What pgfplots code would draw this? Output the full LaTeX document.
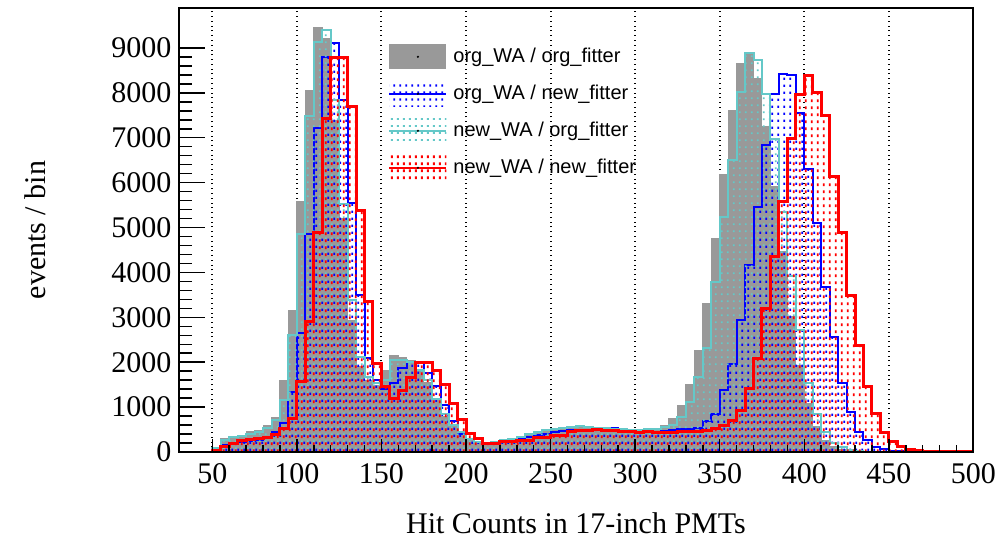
\documentclass[border=0pt]{standalone}
\usepackage{fontspec}
\setmainfont{Liberation Serif}
\newfontfamily\legendfont{Liberation Sans}
\usepackage{pgfplots}
\usepackage{pgfplotstable}
\pgfplotsset{compat=1.18}
\usetikzlibrary{patterns}
\pgfdeclarepatternformonly{dotsred}{\pgfpointorigin}{\pgfpoint{3bp}{3.5bp}}{\pgfpoint{3bp}{3.5bp}}{\pgfpathrectangle{\pgfpoint{0.5bp}{0.5bp}}{\pgfpoint{1.1bp}{1.5bp}}\pgfusepath{fill}}
\pgfdeclarepatternformonly{dotscyan}{\pgfpointorigin}{\pgfpoint{3bp}{3.5bp}}{\pgfpoint{3bp}{3.5bp}}{\pgfpathrectangle{\pgfpoint{0.5bp}{2.25bp}}{\pgfpoint{1.1bp}{1bp}}\pgfusepath{fill}}
\pgfdeclarepatternformonly{dotsblue}{\pgfpointorigin}{\pgfpoint{3bp}{3.5bp}}{\pgfpoint{3bp}{3.5bp}}{\pgfpathrectangle{\pgfpoint{2bp}{1.25bp}}{\pgfpoint{1bp}{1.25bp}}\pgfusepath{fill}}
\definecolor{histgray}{RGB}{153,153,153}
\definecolor{histcyan}{RGB}{100,200,200}
\pgfplotsset{
  layers/rootlayers/.define layer set={axis background,axis grid,main,axis ticks,axis lines,axis tick labels,axis descriptions,axis foreground}{/pgfplots/layers/standard},
}
\pgfplotstableread{
x g b c r
30 0 0 0 0
35 0 0 0 0
40 0 0 0 0
45 0 0 0 0
50 100 45 90 30
55 290 156 270 120
60 340 193 330 200
65 370 230 350 260
70 450 250 400 270
75 480 270 450 290
80 580 310 540 320
85 773 440 712 400
90 1603 640 1157 530
95 3161 1340 2604 750
100 5572 2641 4853 1566
105 8058 4850 7487 2903
110 9453 7227 9134 4884
115 9208 8800 9394 7431
120 7390 9112 7835 8782
125 5200 7836 5535 8782
130 2940 5550 3380 7705
135 1900 3495 2120 5389
140 1600 2090 1680 3363
145 1490 1600 1528 1965
150 1825 1400 1603 1450
155 2160 1528 2050 1200
160 2100 1870 2050 1381
165 2030 2011 2010 1663
170 1800 1980 1825 1989
175 1550 1770 1600 1989
180 1150 1470 1180 1826
185 800 1050 840 1507
190 570 680 600 1084
195 420 390 450 713
200 280 282 290 416
205 215 226 220 300
210 200 200 200 193
215 225 200 220 193
220 270 230 260 230
225 310 260 300 230
230 355 300 340 267
235 400 340 390 267
240 450 380 440 326
245 490 400 480 326
250 530 453 520 378
255 555 475 545 378
260 575 480 565 453
265 585 490 575 490
270 570 495 560 490
275 550 512 545 512
280 530 527 525 475
285 520 527 515 490
290 515 505 510 467
295 505 475 500 453
300 500 453 495 430
305 515 453 505 453
310 530 453 515 430
315 601 467 560 438
320 750 490 601 438
325 1046 505 786 453
330 1500 505 1120 453
335 2270 527 1677 453
340 3309 700 2308 475
345 4756 850 3792 527
350 6188 1380 5224 601
355 7613 1951 6515 712
360 8652 2938 8021 935
365 8889 4163 8889 1417
370 8318 5461 8726 2085
375 7242 6849 7984 3198
380 5906 7984 6982 4348
385 4459 8414 5350 5572
390 3013 8392 3930 6982
395 1937 7558 2710 7962
400 1083 6314 1540 8377
405 564 5090 840 7999
410 267 3680 453 7487
415 119 2567 193 6144
420 60 1547 104 4890
425 30 890 50 3495
430 10 445 25 2367
435 5 260 10 1454
440 0 110 5 861
445 0 60 0 430
450 0 30 0 240
455 0 15 0 125
460 0 8 0 60
465 0 0 0 25
470 0 0 0 15
475 0 0 0 10
480 0 0 0 5
485 0 0 0 3
490 0 0 0 2
495 0 0 0 1
500 0 0 0 1
}\hist
\begin{document}
\begin{tikzpicture}
\begin{axis}[
  set layers=rootlayers,
  at={(0,0)}, anchor=south west,
  scale only axis, width=397.45bp, height=222bp,
  xmin=30, xmax=500, ymin=0, ymax=9890,
  xtick={50,100,...,500}, ytick={0,1000,...,9000},
  minor x tick num=4, minor y tick num=4,
  tick pos=left, tick align=inside,
  x tick style={black, line width=0.75bp, /pgfplots/major tick length=6.5bp, /pgfplots/minor tick length=3.25bp},
  y tick style={black, line width=0.75bp, /pgfplots/major tick length=13bp, /pgfplots/minor tick length=6.5bp},
  xmajorgrids,
  grid style={black, dotted, line width=1bp},
  axis line style={black, line width=1bp},
  scaled y ticks=false,
  /pgf/number format/assume math mode=true,
  /pgf/number format/1000 sep={},
  tick label style={font=\fontsize{15bp}{18bp}\selectfont},
  xticklabel style={yshift=-2.5bp},
  xlabel={Hit Counts in 17-inch PMTs},
  ylabel={events / bin},
  label style={font=\fontsize{15bp}{18bp}\selectfont},
  xlabel style={at={(axis description cs:0.5,-0.16)}, anchor=center},
  ylabel style={at={(axis description cs:-0.1805,0.5)}, anchor=center},
  legend style={at={(0.2636,0.919)}, anchor=north west, draw=none, fill=none, inner sep=0pt,
    row sep=6bp, column sep=3bp, font=\legendfont\fontsize{10bp}{12bp}\selectfont,
    nodes={inner sep=0pt}},
  legend cell align=left,
]
\addplot[const plot, draw=none, fill=histgray, forget plot] table[x=x,y=g]{\hist} \closedcycle;
\addplot[const plot, histgray, line width=0.5bp, forget plot] table[x=x,y=g]{\hist};
\addplot[const plot, draw=none, pattern=dotsblue, pattern color=blue, forget plot] table[x=x,y=b]{\hist} \closedcycle;
\addplot[const plot, blue, line width=1bp, forget plot] table[x=x,y=b]{\hist};
\addplot[const plot, draw=none, pattern=dotscyan, pattern color=histcyan, forget plot] table[x=x,y=c]{\hist} \closedcycle;
\addplot[const plot, histcyan, line width=1bp, forget plot] table[x=x,y=c]{\hist};
\addplot[const plot, draw=none, pattern=dotsred, pattern color=red, forget plot] table[x=x,y=r]{\hist} \closedcycle;
\addplot[const plot, red, line width=1.5bp, forget plot] table[x=x,y=r]{\hist};
\addlegendimage{legend image code/.code={\path[fill=histgray, draw=none] (0bp,-6.25bp) rectangle (28.5bp,6.25bp); \path[fill=black, draw=none] (14.25bp,0bp) circle (0.6bp);}}
\addlegendentry{org\_WA / org\_fitter}
\addlegendimage{legend image code/.code={\path[draw=none, pattern=dotsblue, pattern color=blue] (0bp,-6.25bp) rectangle (28.5bp,6.25bp); \draw[blue, line width=1bp] (0bp,0bp) -- (28.5bp,0bp); \path[fill=black, draw=none] (14.25bp,0bp) circle (0.6bp);}}
\addlegendentry{org\_WA / new\_fitter}
\addlegendimage{legend image code/.code={\path[draw=none, pattern=dotscyan, pattern color=histcyan] (0bp,-6.25bp) rectangle (28.5bp,6.25bp); \draw[histcyan, line width=1bp] (0bp,0bp) -- (28.5bp,0bp); \path[fill=black, draw=none] (14.25bp,0bp) circle (0.6bp);}}
\addlegendentry{new\_WA / org\_fitter}
\addlegendimage{legend image code/.code={\path[draw=none, pattern=dotsred, pattern color=red] (0bp,-6.25bp) rectangle (28.5bp,6.25bp); \draw[red, line width=1bp] (0bp,0bp) -- (28.5bp,0bp); \path[fill=black, draw=none] (14.25bp,0bp) circle (0.6bp);}}
\addlegendentry{new\_WA / new\_fitter}
\end{axis}
\pgfresetboundingbox
\useasboundingbox (-89.25bp,-46bp) rectangle (410.75bp,226bp);
\end{tikzpicture}
\end{document}
